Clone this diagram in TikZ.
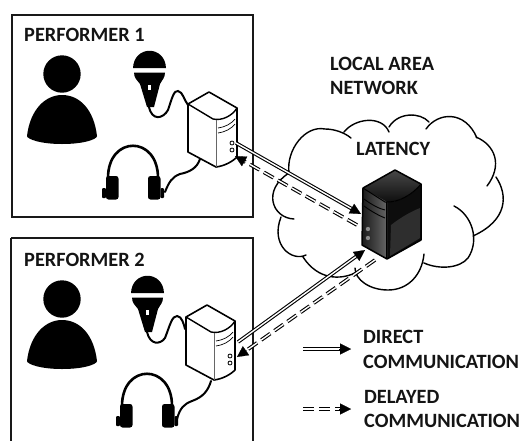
\documentclass[tikz,border=0pt]{standalone}
\usepackage{fontspec}
\setmainfont{Carlito}
\usetikzlibrary{arrows.meta,calc}
\tikzset{
  x=1pt,y=-1pt,
  frame/.style={draw=black!90,line width=2.8pt},
  lbl/.style={anchor=west,inner sep=0pt,font=\fontsize{20.3}{22}\selectfont\bfseries,text=black!92},
  cable/.style={draw=black,line width=2pt,line cap=round},
  cloudline/.style={draw=black,line width=1.4pt,line cap=round},
  dirline/.style={draw=black,double=white,line width=1.1pt,double distance=1.4pt},
  delline/.style={draw=black,double=white,line width=1.1pt,double distance=1.4pt,dash pattern=on 11pt off 5pt},
  tipline/.style={draw=black,line width=0.2pt,-{Triangle[length=11pt,width=11pt,fill=black]}},
  pics/person/.style={code={
    \fill[black] (62,74) circle (18.7);
    \fill[black] (27,136) .. controls (30,110) and (45,95) .. (62,95)
      .. controls (80,95) and (94,110) .. (97,136)
      .. controls (97,139) and (85,144) .. (62,144)
      .. controls (40,144) and (27,139) .. (27,136) -- cycle;
  }},
  pics/mic/.style={code={
    \fill[black] (133,68) .. controls (134,45) and (165,45) .. (166,68) -- cycle;
    \fill[black] (134,72.5) -- (165,72.5) .. controls (165,78) and (162,80) .. (160,84)
      -- (154,107) -- (147,107) -- (140,84) .. controls (137,80) and (134,78) .. (134,72.5) -- cycle;
    \fill[white] (147.8,85) rectangle (150.6,90);
  }},
  pics/pc/.style={code={
    \draw[draw=black,fill=white,line width=1.6pt,line join=round]
      (209,92) -- (188,104) -- (188,152) -- (216,167)
      .. controls (224,166) and (232,162) .. (237,157) -- (237,108) -- cycle;
    \draw[line width=1.4pt,black] (188,104) -- (213,119) .. controls (222,121) and (232,116) .. (237,108);
    \draw[line width=0.9pt,black!60] (216,120) -- (216,167);
    \draw[line width=0.7pt,black] (218,128) .. controls (225,127) and (231,124) .. (235,119);
    \draw[line width=0.7pt,black] (218,133) .. controls (225,132) and (231,129) .. (235,124);
    \draw[line width=0.8pt,black] (232,143) circle (2) (232,150) circle (2);
  }},
  pics/phones/.style={code={
    \draw[line width=2.6pt,black] (108,178) .. controls (108,135) and (158,135) .. (158,178);
    \fill[black,rounded corners=2.5pt] (106,176) rectangle (118.5,199.5);
    \fill[black,rounded corners=2.5pt] (148,176) rectangle (160.5,199.5);
    \fill[black,rounded corners=1pt] (102,188) rectangle (106,198);
    \fill[black,rounded corners=1pt] (160.5,188) rectangle (164,198);
  }},
}
\begin{document}
\begin{tikzpicture}
\useasboundingbox (0,0) rectangle (522,440);
% frames
\draw[frame] (12,15) rectangle (253,217);
\draw[frame] (11,238) -- (253,238) -- (253,441);
\draw[frame] (11,238) -- (11,441);
% performer 1
\pic at (0,0) {person};
\pic at (0,0) {mic};
\pic at (0,0) {phones};
\pic at (0,0) {pc};
\draw[cable] (149,107) .. controls (152,121) and (163,119) .. (168,110)
  .. controls (172,98) and (174,90) .. (178,91) .. controls (183,92) and (184,100) .. (188,105);
\draw[cable] (165,192) .. controls (169,182) and (172,177) .. (180,174)
  .. controls (190,172) and (197,168) .. (200,159);
% performer 2
\pic at (0,225) {person};
\pic at (-2,225) {mic};
\pic at (14,228) {phones};
\pic at (-2,213) {pc};
\draw[cable] (147,332) .. controls (150,345) and (160,345) .. (165,338)
  .. controls (170,325) and (172,316) .. (177,316) .. controls (182,316) and (184,325) .. (185,329);
\draw[cable] (177,419) .. controls (180,408) and (184,404) .. (192,401)
  .. controls (203,397) and (208,391) .. (211,381);
% cloud
\draw[cloudline]
  (289,173) .. controls (286,150) and (305,125) .. (325,129) .. controls (335,129) and (345,133) .. (351,138)
  (344,132) .. controls (355,118) and (382,115) .. (389,132)
  (389,127) .. controls (398,112) and (420,112) .. (429,122)
  (426,129) .. controls (438,112) and (465,110) .. (477,138)
  (476,137) .. controls (495,145) and (503,165) .. (487,186)
  (496,177) .. controls (508,195) and (508,220) .. (473,236)
  (454,206) .. controls (472,215) and (480,240) .. (468,258)
  .. controls (460,268) and (440,270) .. (424,263)
  (424,254) .. controls (422,275) and (408,290) .. (388,290)
  .. controls (370,290) and (355,280) .. (355,268)
  (355,273) .. controls (340,280) and (318,280) .. (303,257)
  (306,255) .. controls (292,262) and (270,245) .. (281,217)
  (294,219) .. controls (272,218) and (262,190) .. (289,173);
% central server
\shade[top color=black!72,bottom color=black!95] (395,170) -- (363,188) -- (385,202) .. controls (398,203) and (412,195) .. (421,184) -- cycle;
\fill[black!95] (386,202) .. controls (398,203) and (412,195) .. (421,184) -- (421,240) -- (387,259) -- cycle;
\shade[left color=black!90,right color=black!60] (363,188) -- (387,202) -- (387,259) -- (362,245) -- cycle;
\fill[black!82] (391,225) .. controls (400,218) and (410,212) .. (420,208) -- (420,238) -- (390,256) -- cycle;
\draw[black,line width=1.5pt,line join=round] (395,170) -- (363,188) -- (362,245) -- (387,259) -- (421,240) -- (421,184) -- cycle;
\draw[black,line width=1pt] (363,188) -- (385,202) .. controls (398,203) and (412,195) .. (421,184);
\draw[black,line width=0.8pt] (386,202) -- (386,259);
\draw[black,line width=0.9pt] (364,199) .. controls (372,205) and (380,209) .. (385,210);
\draw[black,line width=0.9pt] (364,206) .. controls (372,212) and (380,216) .. (385,218);
\fill[black!45,draw=black!85,line width=0.5pt] (368,229) circle (2.6) (368,238) circle (2.6);
% named ends of the links
\coordinate (p1out) at (236,143);
\coordinate (lanin1) at (361,214);
\coordinate (lanout1) at (357,225);
\coordinate (p1in) at (235,156);
\coordinate (p2out) at (238,342);
\coordinate (lanin2) at (365,250);
\coordinate (lanout2) at (375,260);
\coordinate (p2in) at (237,357);
\coordinate (legA1) at (303,349);
\coordinate (legA2) at (351,349);
\coordinate (legB1) at (303,409);
\coordinate (legB2) at (351,409);
% links
\draw[dirline,shorten >=8pt] (p1out) -- (lanin1);
\draw[tipline] ($(lanin1)!12pt!(p1out)$) -- (lanin1);
\draw[delline,shorten >=8pt] (lanout1) -- (p1in);
\draw[tipline] ($(p1in)!12pt!(lanout1)$) -- (p1in);
\draw[dirline,shorten >=8pt] (p2out) -- (lanin2);
\draw[tipline] ($(lanin2)!12pt!(p2out)$) -- (lanin2);
\draw[delline,shorten >=8pt] (lanout2) -- (p2in);
\draw[tipline] ($(p2in)!12pt!(lanout2)$) -- (p2in);
\draw[dirline,shorten >=8pt] (legA1) -- (legA2);
\draw[tipline] ($(legA2)!12pt!(legA1)$) -- (legA2);
\draw[delline,shorten >=8pt] (legB1) -- (legB2);
\draw[tipline] ($(legB2)!12pt!(legB1)$) -- (legB2);
% labels
\node[lbl] (t1) at (24,35) {PERFORMER 1};
\node[lbl] (t2) at (24,260) {PERFORMER 2};
\node[lbl] (t3) at (330,64) {LOCAL AREA};
\node[lbl] (t4) at (330,88) {NETWORK};
\node[lbl] (t5) at (356,149) {LATENCY};
\node[lbl] (t6) at (363,337) {DIRECT};
\node[lbl] (t7) at (363,362) {COMMUNICATION};
\node[lbl] (t8) at (364,397) {DELAYED};
\node[lbl] (t9) at (364,421) {COMMUNICATION};
\end{tikzpicture}
\end{document}
